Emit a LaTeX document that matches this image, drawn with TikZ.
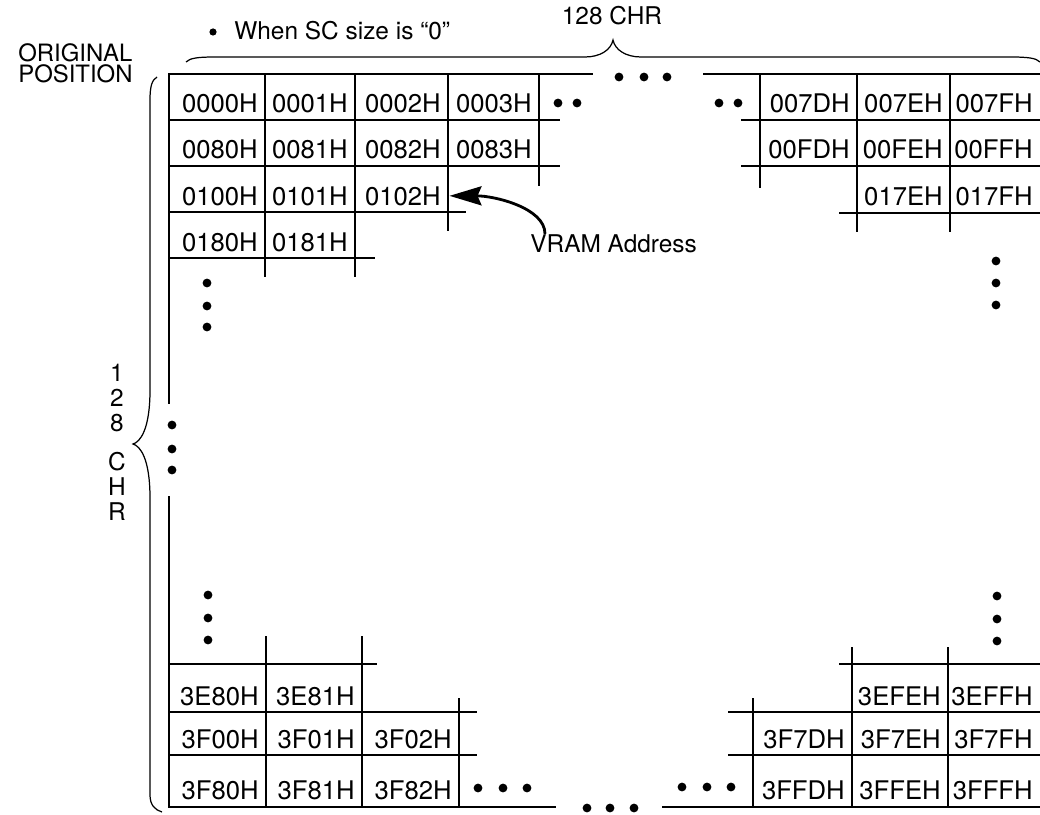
\documentclass[tikz,border=0pt]{standalone}
\usepackage{fontspec}
\setmainfont{TeX Gyre Heros}
\usetikzlibrary{arrows.meta}
\newcommand{\txtfont}{\fontsize{13.9pt}{16pt}\selectfont}
\newcommand{\cellfont}{\fontsize{14.6pt}{16pt}\selectfont}

\begin{document}
\begin{tikzpicture}[x=0.02cm, y=-0.02cm,
    cell/.style={anchor=base east, inner sep=0pt, font=\cellfont},
    lbl/.style={inner sep=0pt, font=\txtfont},
    gridline/.style={line width=1.3pt, line cap=rect},
    braceline/.style={line width=0.7pt},
    pointer/.style={-{Stealth[length=0.64cm, width=0.38cm, inset=0.08cm]}, line width=1.6pt}
  ]
  \useasboundingbox (0,0) rectangle (1040,814);

  % Labels
  \node[lbl, anchor=north west, align=left, font=\fontsize{13.6pt}{12.4pt}\selectfont] (orig) at (18,43) {ORIGINAL\\POSITION};
  \fill (213,32) circle[radius=0.072cm];
  \node[lbl, anchor=base west] (scsize) at (234,40) {When SC size is “0”};
  \node[lbl, anchor=base] (chrtop) at (612,25) {128 CHR};
  \node[lbl, anchor=north, align=center, font=\fontsize{13.9pt}{14.2pt}\selectfont] (chrleft) at (117,364) {1\\2\\8\\[0.28cm]C\\H\\R};
  \node[lbl, anchor=base west] (vram) at (530,252) {VRAM Address};

  % Braces
  \draw[braceline] (186,62) .. controls (190,58) and (198,57) .. (215,57) -- (585,57)
    .. controls (600,57) and (611,50) .. (613,40)
    .. controls (615,50) and (626,57) .. (641,57) -- (1010,57)
    .. controls (1028,57) and (1036,58) .. (1040,62);
  \draw[braceline] (157,77) .. controls (152,80) and (150,86) .. (150,100) -- (150,390)
    .. controls (150,430) and (140,442) .. (133,444)
    .. controls (140,446) and (150,458) .. (150,498) -- (150,795)
    .. controls (150,805) and (155,810) .. (162,812);

  % Top-left block
  \draw[gridline] (169,74) -- (592,74)
    (169,120) -- (559,120)
    (169,166) -- (559,166)
    (169,212) -- (465,212)
    (169,258) -- (374,258);
  \draw[gridline] (169,74) -- (169,403)
    (265,74) -- (265,276)
    (355,74) -- (355,276)
    (448,74) -- (448,230)
    (539,74) -- (539,185);

  % Top-right block
  \draw[gridline] (704,74) -- (1040,74)
    (742,120) -- (1040,120)
    (742,166) -- (1040,166)
    (840,213) -- (1040,213);
  \draw[gridline] (760,74) -- (760,187)
    (857,74) -- (857,231)
    (950,74) -- (950,231);

  % Bottom-left block
  \draw[gridline] (169,664) -- (376,664)
    (169,712) -- (476,712)
    (169,755) -- (476,755)
    (169,807) -- (555,807);
  \draw[gridline] (169,497) -- (169,807)
    (266,637) -- (266,807)
    (362,637) -- (362,807)
    (459,699) -- (459,807);

  % Bottom-right block
  \draw[gridline] (840,664) -- (1040,664)
    (729,712) -- (1040,712)
    (729,755) -- (1040,755)
    (663,807) -- (1040,807);
  \draw[gridline] (753,699) -- (753,807)
    (852,648) -- (852,807)
    (948,648) -- (948,807);

  % Addresses
  \foreach \t/\x in {0000H/265,0001H/355,0002H/448,0003H/539,007DH/857,007EH/950,007FH/1040}
    \node[cell] (c\t) at (\x-7,113) {\t};
  \foreach \t/\x in {0080H/265,0081H/355,0082H/448,0083H/539,00FDH/857,00FEH/950,00FFH/1040}
    \node[cell] (c\t) at (\x-7,159) {\t};
  \foreach \t/\x in {0100H/265,0101H/355,0102H/448,017EH/950,017FH/1040}
    \node[cell] (c\t) at (\x-7,205) {\t};
  \foreach \t/\x in {0180H/265,0181H/355}
    \node[cell] (c\t) at (\x-7,251) {\t};
  \foreach \t/\x in {3E80H/266,3E81H/362,3EFEH/948,3EFFH/1040}
    \node[cell] (c\t) at (\x-7,705) {\t};
  \foreach \t/\x in {3F00H/266,3F01H/362,3F02H/459,3F7DH/852,3F7EH/948,3F7FH/1040}
    \node[cell] (c\t) at (\x-7,748) {\t};
  \foreach \t/\x in {3F80H/266,3F81H/362,3F82H/459,3FFDH/852,3FFEH/948,3FFFH/1040}
    \node[cell] (c\t) at (\x-7,799) {\t};

  % Ellipsis dots
  \foreach \x/\y in {558/103,577/103,719/103,738/103,
                     619/77,644/77,667/77,
                     207/283,207/306,207/327,
                     172/425,172/449,172/470,
                     208/595,208/618,208/640,
                     996/261,996/283,996/305,
                     997/596,997/619,997/641,
                     478/788,503/788,527/788,
                     587/808,610/808,634/808,
                     682/787,707/787,731/787}
    \fill (\x,\y) circle[radius=0.088cm];

  % Pointer
  \draw[pointer] ([xshift=0.3cm]vram.north west) .. controls +(0,-26) and +(45,0) .. ([xshift=0.17cm]c0102H.east);
\end{tikzpicture}
\end{document}
